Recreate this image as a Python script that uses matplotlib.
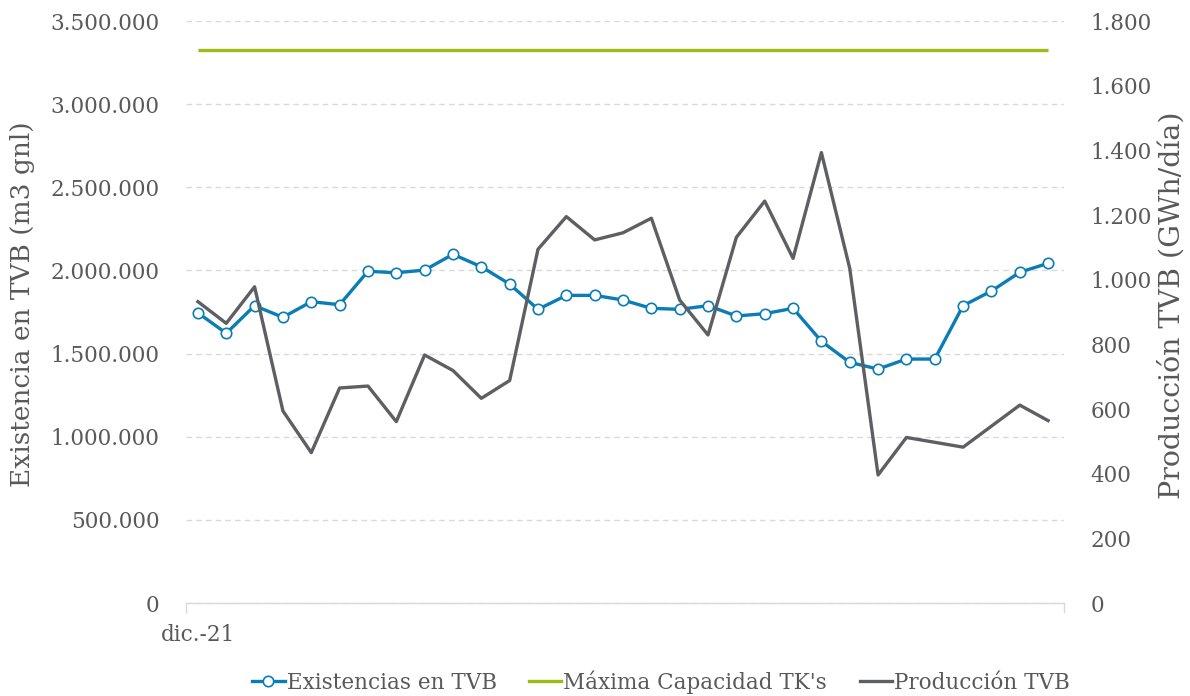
import matplotlib
matplotlib.use("Agg")
import matplotlib.pyplot as plt
from matplotlib.ticker import FuncFormatter, FixedLocator
from matplotlib.lines import Line2D

days = list(range(1, 32))
x_label = "dic.-21"

existencias = [1745000, 1622000, 1788000, 1718000, 1812000, 1794000, 1995000, 1986000,
               2002000, 2097000, 2022000, 1918000, 1766000, 1850000, 1850000, 1822000,
               1772000, 1766000, 1788000, 1726000, 1740000, 1772000, 1574000, 1447000,
               1407000, 1467000, 1467000, 1788000, 1876000, 1989000, 2043000]

max_capacidad = [3325000] * 31

produccion = [932, 865, 978, 594, 465, 665, 671, 561, 767, 719, 633, 688, 1094, 1195,
              1123, 1145, 1190, 937, 829, 1131, 1243, 1066, 1393, 1035, 396, 512, 497,
              482, 547, 612, 564]

left_ticks = [0, 500000, 1000000, 1500000, 2000000, 2500000, 3000000, 3500000]
right_ticks = [0, 200, 400, 600, 800, 1000, 1200, 1400, 1600, 1800]

FONT = "DejaVu Serif"
TXT = "#595959"
BLUE = "#0b7db5"
GREEN = "#9cbb15"
GRAY = "#5e5f63"
GRID = "#d9d9d9"
FS = 15.5
LFS = 19
RFS = 20.5

plt.rcParams["font.family"] = [FONT]

fig = plt.figure(figsize=(11.9, 6.96), dpi=100)
ax = fig.add_axes([186/1190, 1 - 603/696, (1064-186)/1190, (603-21)/696])
ax2 = ax.twinx()

def thousands(v, pos):
    return f"{int(round(v)):,}".replace(",", ".")

ax.plot(days, max_capacidad, color=GREEN, lw=2.4, solid_capstyle="butt", zorder=3)
ax.plot(days, existencias, color=BLUE, lw=2.4, marker="o", ms=7.5,
        mfc="white", mec=BLUE, mew=1.2, zorder=4)
ax2.plot(days, produccion, color=GRAY, lw=2.4, zorder=5)

ax.set_xlim(0.58, 31.56)
ax.set_ylim(0, 3500000)
ax2.set_ylim(0, 1800)
ax.yaxis.set_major_locator(FixedLocator(left_ticks))
ax2.yaxis.set_major_locator(FixedLocator(right_ticks))
ax.yaxis.set_major_formatter(FuncFormatter(thousands))
ax2.yaxis.set_major_formatter(FuncFormatter(thousands))

ax.grid(axis="y", color=GRID, ls=(0, (4, 3)), lw=1.0)
ax.set_axisbelow(True)

for a in (ax, ax2):
    for s in ("top", "left", "right", "bottom"):
        a.spines[s].set_visible(False)
ax.spines["bottom"].set_visible(True)
ax.spines["bottom"].set_color(GRID)
ax.spines["bottom"].set_linewidth(1.0)

ax.tick_params(axis="y", length=0, labelsize=FS, labelcolor=TXT, pad=19)
ax2.tick_params(axis="y", length=0, labelsize=FS, labelcolor=TXT, pad=19)

ax.set_xticks([0.58, 31.56])
ax.set_xticklabels(["", ""])
ax.tick_params(axis="x", which="major", length=7, color=GRID, width=1.0)
ax.set_xticks([1], minor=True)
ax.set_xticklabels([x_label], minor=True)
ax.tick_params(axis="x", which="minor", length=0, labelsize=FS, labelcolor=TXT, pad=15)

ax.set_ylabel("Existencia en TVB (m3 gnl)", fontsize=LFS, color=TXT)
ax.yaxis.set_label_coords((35 - 186) / 878, (603 - 304) / 582)
ax2.set_ylabel("Producción TVB (GWh/día)", fontsize=RFS, color=TXT, rotation=90)
ax2.yaxis.set_label_coords((1158 - 186) / 878, (603 - 305) / 582)

handles = [
    Line2D([], [], color=BLUE, lw=2.4, marker="o", ms=7.5, mfc="white", mec=BLUE, mew=1.2),
    Line2D([], [], color=GREEN, lw=2.4),
    Line2D([], [], color=GRAY, lw=2.4),
]
labels = ["Existencias en TVB", "Máxima Capacidad TK's", "Producción TVB"]
fig.legend(handles, labels, loc="center", bbox_to_anchor=(661/1190, 1 - 682/696),
           ncol=3, frameon=False, fontsize=FS, labelcolor=TXT, handlelength=1.5,
           handletextpad=0.1, columnspacing=1.5, borderpad=0.1)

fig.savefig("out.png", dpi=100, facecolor="white")
